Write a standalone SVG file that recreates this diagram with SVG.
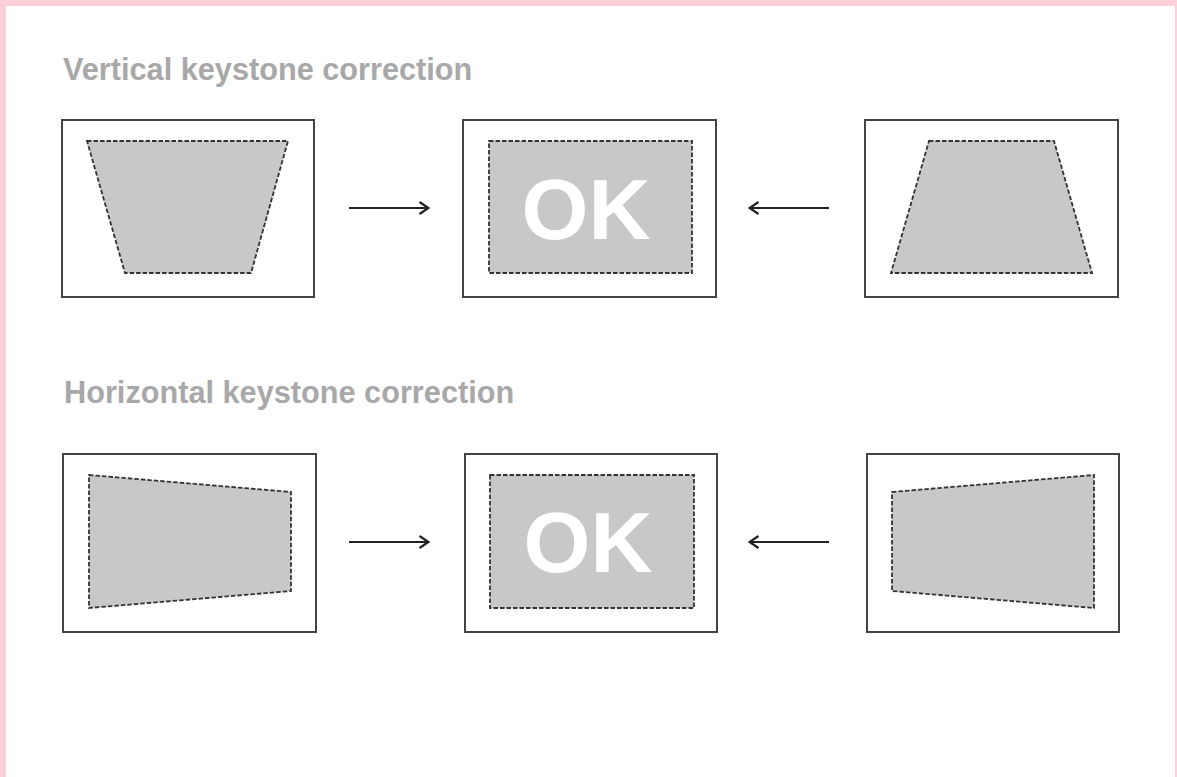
<svg xmlns="http://www.w3.org/2000/svg" width="1177" height="777" viewBox="0 0 1177 777">
<defs>
<style>
.title{font-family:"Liberation Sans",Arial,sans-serif;font-weight:bold;font-size:30.7px;fill:#a8a8a8}
.frame{fill:#fff;stroke:#444;stroke-width:2}
.img{fill:#c8c8c8;stroke:#333;stroke-width:1.8;stroke-dasharray:4.5 2}
.ok{font-family:"Liberation Sans",Arial,sans-serif;font-weight:bold;font-size:86px;fill:#fff;text-anchor:middle}
.conn{stroke:#222;stroke-width:2.2;fill:none}
</style>
<marker id="arr" viewBox="0 0 12 14" refX="11" refY="7" markerWidth="12" markerHeight="14" markerUnits="userSpaceOnUse" orient="auto">
<path d="M1.5,1 L10.5,7 L1.5,13" fill="none" stroke="#222" stroke-width="2.2"/>
</marker>
</defs>
<rect x="0" y="0" width="1177" height="777" fill="#fff"/>
<rect x="0" y="0" width="1177" height="6" fill="#ffcfdc"/>
<rect x="0" y="0" width="6" height="777" fill="#ffcfdc"/>
<rect x="1175" y="0" width="2" height="777" fill="#ffcfdc"/>

<text class="title" x="63" y="80">Vertical keystone correction</text>
<text class="title" x="64" y="403">Horizontal keystone correction</text>

<g id="v-left">
<rect class="frame" x="62" y="120" width="252" height="177"/>
<polygon class="img" points="87,141 288,141 251,273 125,273"/>
</g>
<g id="v-mid">
<rect class="frame" x="463" y="120" width="253" height="177"/>
<rect class="img" x="489" y="141" width="203" height="132"/>
<text class="ok" x="586" y="239">OK</text>
</g>
<g id="v-right">
<rect class="frame" x="865" y="120" width="253" height="177"/>
<polygon class="img" points="929,141 1054,141 1092,273 891,273"/>
</g>

<g id="h-left">
<rect class="frame" x="63" y="454" width="253" height="178"/>
<polygon class="img" points="89,475 291,492 291,591 89,608"/>
</g>
<g id="h-mid">
<rect class="frame" x="465" y="454" width="252" height="178"/>
<rect class="img" x="490" y="475" width="204" height="133"/>
<text class="ok" x="588" y="572">OK</text>
</g>
<g id="h-right">
<rect class="frame" x="867" y="454" width="252" height="178"/>
<polygon class="img" points="892,492 1094,475 1094,608 892,591"/>
</g>

<g id="connectors">
<line class="conn" x1="349" y1="208" x2="429" y2="208" marker-end="url(#arr)"/>
<line class="conn" x1="829" y1="208" x2="749" y2="208" marker-end="url(#arr)"/>
<line class="conn" x1="349" y1="542" x2="429" y2="542" marker-end="url(#arr)"/>
<line class="conn" x1="829" y1="542" x2="749" y2="542" marker-end="url(#arr)"/>
</g>
</svg>
